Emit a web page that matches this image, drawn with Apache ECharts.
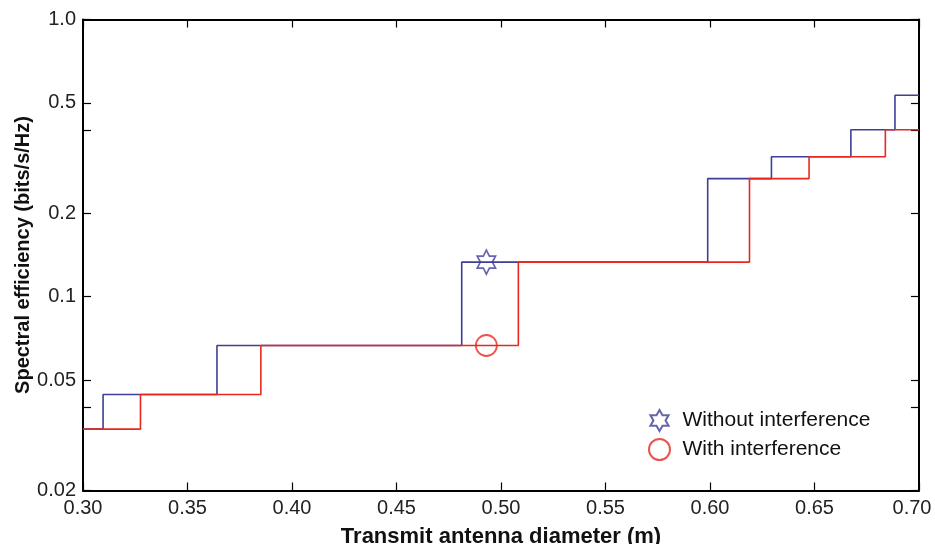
<!DOCTYPE html>
<html>
<head>
<meta charset="utf-8">
<script src="https://cdn.jsdelivr.net/npm/echarts@6/dist/echarts.min.js"></script>
<style>
  html, body { margin: 0; padding: 0; background: #fff; }
  #chart { width: 935px; height: 544px; }
</style>
</head>
<body>
<div id="chart"></div>
<script>
// step edges (x where the level changes) and levels
const blueX = [0.30, 0.3096, 0.3641, 0.4812, 0.5989, 0.6294, 0.6674, 0.6885, 0.70];
const blueY = [0.0333, 0.0444, 0.0667, 0.1333, 0.2667, 0.32, 0.40, 0.5333, 0.5333];
const redX = [0.30, 0.3275, 0.3851, 0.5083, 0.6189, 0.6474, 0.6839, 0.70];
const redY = [0.0333, 0.0444, 0.0667, 0.1333, 0.2667, 0.32, 0.40, 0.40];
const markerX = [0.493];
const starY = [0.1333];
const circleY = [0.0667];
const yTicks = [0.02, 0.04, 0.05, 0.1, 0.2, 0.4, 0.5, 1];
const yLabels = [0.02, 0.05, 0.1, 0.2, 0.5, 1];

const blueColor = '#3d3f96';
const redColor = '#e8281f';
const star = 'path://M100,0 L128.9,50 L186.6,50 L157.7,100 L186.6,150 L128.9,150 L100,200 L71.1,150 L13.4,150 L42.3,100 L13.4,50 L71.1,50 Z';

const zip = (xs, ys) => xs.map((x, i) => [x, ys[i]]);

const chart = echarts.init(document.getElementById('chart'));

const tickInside = { show: true, inside: true, length: 8, lineStyle: { color: '#000', width: 1.2 } };
const frameLine = { show: true, lineStyle: { color: '#000', width: 2 } };
const font = 'Liberation Sans';

chart.setOption({
  animation: false,
  grid: { left: 83, right: 16, top: 19.5, bottom: 53.5, outerBoundsMode: 'none' },
  xAxis: [
    {
      type: 'value', min: 0.3, max: 0.7, interval: 0.05,
      name: 'Transmit antenna diameter (m)', nameLocation: 'middle', nameGap: 35,
      nameMoveOverlap: false,
      nameTextStyle: { fontFamily: font, fontWeight: 'bold', fontSize: 22, color: '#111' },
      axisLine: frameLine,
      axisTick: tickInside,
      splitLine: { show: false },
      axisLabel: {
        fontFamily: font, fontSize: 20, color: '#222', margin: 8,
        showMinLabel: true, showMaxLabel: true,
        // last label sits pulled in from the frame edge, as in the source
        formatter: v => (v > 0.69 ? '{e|' + v.toFixed(2) + '}' : v.toFixed(2)),
        rich: { e: { fontFamily: font, fontSize: 20, color: '#222', padding: [0, 14, 0, 0] } }
      }
    },
    {
      type: 'value', position: 'top', min: 0.3, max: 0.7, interval: 0.05,
      axisLine: frameLine, axisTick: tickInside,
      splitLine: { show: false }, axisLabel: { show: false }
    }
  ],
  yAxis: [
    {
      type: 'log', logBase: 10, min: 0.02, max: 1,
      name: 'Spectral efficiency (bits/s/Hz)', nameLocation: 'middle', nameGap: 50, nameRotate: 90,
      nameMoveOverlap: false,
      nameTextStyle: { fontFamily: font, fontWeight: 'bold', fontSize: 20, color: '#111' },
      axisLine: frameLine,
      axisTick: Object.assign({}, tickInside, { customValues: yTicks }),
      splitLine: { show: false },
      minorTick: { show: false },
      axisLabel: {
        customValues: yLabels,
        fontFamily: font, fontSize: 20, color: '#222', margin: 7,
        formatter: v => (v === 1 ? '1.0' : String(v))
      }
    },
    {
      type: 'log', logBase: 10, min: 0.02, max: 1, position: 'right',
      axisLine: frameLine,
      axisTick: Object.assign({}, tickInside, { customValues: yTicks }),
      splitLine: { show: false },
      axisLabel: { show: false }
    }
  ],
  legend: {
    orient: 'vertical', left: 643, top: 404,
    itemWidth: 36, itemHeight: 21, itemGap: 6,
    textStyle: { fontFamily: font, fontSize: 21, lineHeight: 21, color: '#111' },
    data: ['Without interference', 'With interference']
  },
  series: [
    {
      type: 'line', step: 'end', data: zip(blueX, blueY), showSymbol: false,
      lineStyle: { color: blueColor, width: 1.6 }, z: 2
    },
    {
      type: 'line', step: 'end', data: zip(redX, redY), showSymbol: false,
      lineStyle: { color: redColor, width: 1.6 }, z: 3
    },
    {
      name: 'Without interference', type: 'scatter', data: zip(markerX, starY),
      symbol: star, symbolSize: [21, 24], symbolKeepAspect: true,
      itemStyle: { color: 'rgba(0,0,0,0)', borderColor: blueColor, borderWidth: 1.8 }, z: 4
    },
    {
      name: 'With interference', type: 'scatter', data: zip(markerX, circleY),
      symbol: 'circle', symbolSize: 21,
      itemStyle: { color: 'rgba(0,0,0,0)', borderColor: redColor, borderWidth: 1.8 }, z: 4
    }
  ]
});
</script>
</body>
</html>
